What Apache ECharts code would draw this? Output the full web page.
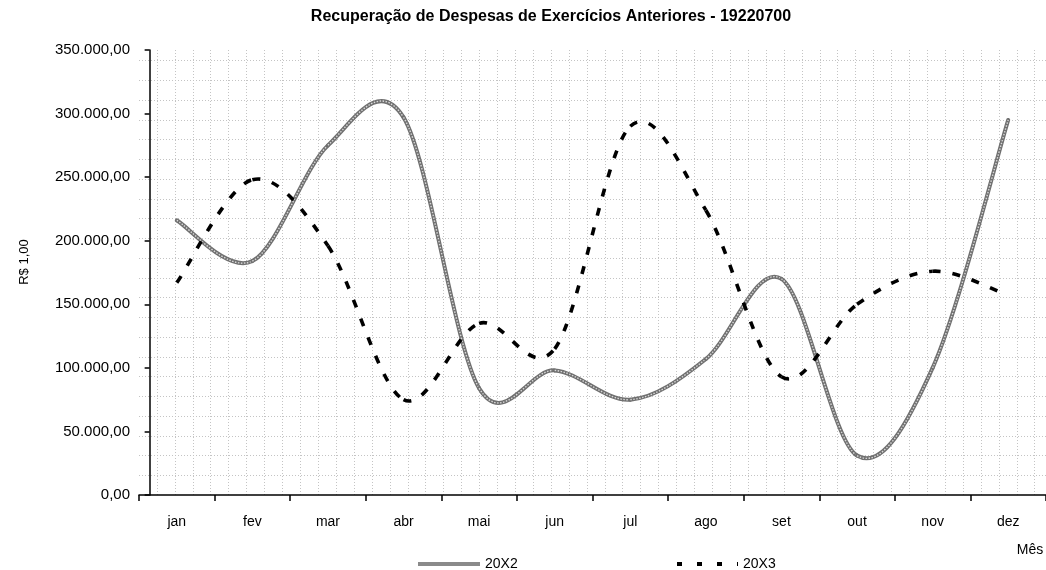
<!DOCTYPE html>
<html><head><meta charset="utf-8">
<script src="https://cdn.jsdelivr.net/npm/echarts@6/dist/echarts.min.js"></script>
<style>html,body{margin:0;padding:0;background:#fff}#c{width:1046px;height:570px}</style>
</head><body><div id="c"></div>
<script>
const months = ['jan','fev','mar','abr','mai','jun','jul','ago','set','out','nov','dez'];
const s20X2 = [216000,184000,275000,297000,84000,98000,75000,107000,170000,31000,100000,295000];
const s20X3 = [167000,248000,196000,75000,135000,115000,290000,224000,93000,150000,176000,157000];
const yMin = 0, yMax = 350000, yStep = 50000;
const titleText = 'Recuperação de Despesas de Exercícios Anteriores - 19220700';
const yName = 'R$ 1,00';
const xName = 'Mês';

function fmtBR(v){
  const s = Number(v).toFixed(2);
  const p = s.split('.');
  return p[0].replace(/\B(?=(\d{3})+(?!\d))/g,'.') + ',' + p[1];
}
const FONT = '"Liberation Sans", Arial, sans-serif';
const gridLine = {show:true, lineStyle:{color:'#c4c4c4', width:1, type:[1,2]}};

// Smooth (Catmull-Rom) segment from point i to i+1, positioned by the axes
function curveRenderer(values, layers){
  return function(params, api){
    const i = params.dataIndex;
    const n = values.length;
    if (i >= n - 1) return null;
    const P = k => { k = Math.max(0, Math.min(n - 1, k)); return api.coord([k, values[k]]); };
    const p0 = P(i - 1), p1 = P(i), p2 = P(i + 1), p3 = P(i + 2);
    const shape = {
      x1:p1[0], y1:p1[1], x2:p2[0], y2:p2[1],
      cpx1:p1[0] + (p2[0] - p0[0]) / 6, cpy1:p1[1] + (p2[1] - p0[1]) / 6,
      cpx2:p2[0] - (p3[0] - p1[0]) / 6, cpy2:p2[1] - (p3[1] - p1[1]) / 6
    };
    return {type:'group', children: layers.map(st => ({type:'bezierCurve', shape:shape, style:Object.assign({fill:null}, st)}))};
  };
}

const chart = echarts.init(document.getElementById('c'), null, {renderer:'canvas'});
chart.setOption({
  backgroundColor:'#fff',
  animation:false,
  textStyle:{fontFamily:FONT},
  grid:{left:139, top:50, width:912, height:445, containLabel:false},
  graphic:[
    {type:'text', x:551, y:17, style:{text:titleText, font:'bold 16px '+FONT, fill:'#000', textAlign:'center', textVerticalAlign:'middle'}},
    {type:'text', x:1030, y:550, style:{text:xName, font:'14px '+FONT, fill:'#000', textAlign:'center', textVerticalAlign:'middle'}},
    {type:'text', x:24, y:262, rotation:Math.PI/2, style:{text:yName, font:'13px '+FONT, fill:'#000', textAlign:'center', textVerticalAlign:'middle'}}
  ],
  legend:[
    {data:[{name:'20X2', icon:'path://M0 0h62v4h-62z'}], left:418, top:557, padding:0, itemWidth:62, itemHeight:4,
     textStyle:{fontSize:14, color:'#000', fontFamily:FONT}},
    {data:[{name:'20X3', icon:'path://M0 0h5v4h-5zM20 0h5v4h-5zM40 0h5v4h-5zM60 0h1v4h-1z'}], left:677, top:557, padding:0, itemWidth:61, itemHeight:4,
     textStyle:{fontSize:14, color:'#000', fontFamily:FONT}}
  ],
  xAxis:[
    {type:'category', data:months, boundaryGap:true, gridIndex:0,
     axisLine:{lineStyle:{color:'#000', width:1.5}},
     axisTick:{show:true, length:6, lineStyle:{color:'#000', width:1.5}},
     axisLabel:{margin:20, fontSize:14, color:'#000', fontFamily:FONT},
     splitLine:{show:false}},
    {type:'value', gridIndex:0, min:-0.594, max:50.04, interval:1,
     axisLine:{show:false}, axisTick:{show:false}, axisLabel:{show:false},
     splitLine:Object.assign({showMinLine:false, showMaxLine:false}, gridLine)}
  ],
  yAxis:[
    {type:'value', min:yMin, max:yMax, interval:yStep, gridIndex:0,
     axisLine:{show:true, lineStyle:{color:'#000', width:1.5}},
     axisTick:{show:true, length:5, lineStyle:{color:'#000', width:1.5}},
     axisLabel:{margin:9, fontSize:15, color:'#000', fontFamily:FONT, formatter:fmtBR},
     splitLine:{show:false}},
    {type:'value', gridIndex:0, min:-0.116, max:22.42, interval:1,
     axisLine:{show:false}, axisTick:{show:false}, axisLabel:{show:false},
     splitLine:Object.assign({showMinLine:false, showMaxLine:false}, gridLine)}
  ],
  series:[
    {name:'20X2', type:'custom', xAxisIndex:0, yAxisIndex:0, z:3,
     data:s20X2.map((v,i)=>[i,v]), encode:{x:0, y:1},
     itemStyle:{color:'#8a8a8a'},
     renderItem:curveRenderer(s20X2, [
       {stroke:'#707070', lineWidth:4, lineCap:'round'},
       {stroke:'#d8d8d8', lineWidth:1.4, lineDash:[1.5,1.5], lineCap:'butt'}
     ])},
    {name:'20X3', type:'custom', xAxisIndex:0, yAxisIndex:0, z:4,
     data:s20X3.map((v,i)=>[i,v]), encode:{x:0, y:1},
     itemStyle:{color:'#000'},
     renderItem:curveRenderer(s20X3, [
       {stroke:'#000', lineWidth:3.6, lineDash:[8,12], lineCap:'butt'}
     ])}
  ]
});
</script></body></html>
